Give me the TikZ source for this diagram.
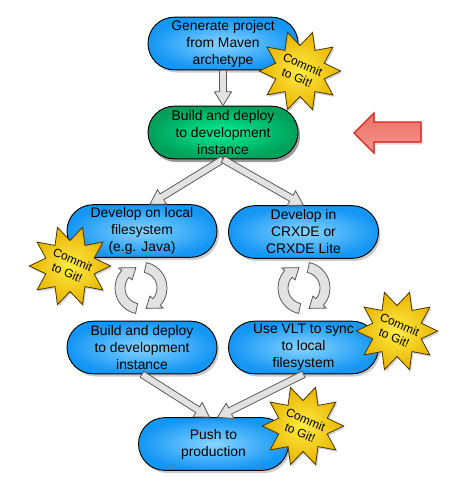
\documentclass[tikz,border=0pt]{standalone}
\usepackage{fontspec}
\setmainfont{Liberation Sans}
\usetikzlibrary{shapes.geometric, shapes.misc, shadows, calc}

\definecolor{boxblue}{RGB}{20,150,245}
\definecolor{boxlight}{RGB}{135,212,255}
\definecolor{boxgreen}{RGB}{0,160,90}
\definecolor{greenlight}{RGB}{0,238,148}
\definecolor{staryellow}{RGB}{232,180,0}
\definecolor{starlight}{RGB}{255,236,70}
\definecolor{starline}{RGB}{70,55,0}
\definecolor{arrowgray}{RGB}{226,226,226}
\definecolor{arrowline}{RGB}{90,90,90}
\definecolor{redline}{RGB}{215,35,25}
\definecolor{redtop}{RGB}{232,112,102}
\definecolor{redbottom}{RGB}{250,150,140}

\tikzset{
  stepbox/.style={rounded rectangle, draw=black, line width=0.7pt, minimum width=112.5pt, minimum height=39.5pt,
    inner sep=0pt, align=center, font=\fontsize{10.4}{12.75}\selectfont,
    shading=radial, inner color=boxlight, outer color=boxblue,
    drop shadow={shadow xshift=1.5pt, shadow yshift=-2pt, opacity=0.4}},
  greenbox/.style={stepbox, inner color=greenlight, outer color=boxgreen,
    drop shadow={shadow xshift=1.5pt, shadow yshift=-2.5pt, opacity=0.7}},
  gitstar/.style={star, star points=10, star point ratio=1.6, minimum size=61pt, inner sep=0pt,
    shape border rotate=18,
    draw=starline, line width=0.6pt, shading=radial, inner color=starlight, outer color=staryellow,
    drop shadow={shadow xshift=1pt, shadow yshift=-1.5pt, opacity=0.35}},
  gittext/.style={align=center, rotate=-23, inner sep=0pt, font=\fontsize{9}{10.5}\selectfont},
  hollow/.style={fill=arrowgray, draw=arrowline, line width=0.6pt, line join=miter},
  cyclearrow/.style={fill=arrowgray, draw=arrowline, line width=0.6pt},
  redarrow/.style={draw=redline, line width=0.9pt, top color=redtop, bottom color=redbottom,
    drop shadow={shadow xshift=1pt, shadow yshift=-2pt, opacity=0.25}}
}

% wide arrow with an outlined shaft, drawn from #1 to #2
\newcommand{\hollowarrow}[2]{%
  \coordinate (ha) at (#1);
  \coordinate (hb) at (#2);
  \coordinate (hh) at ($(hb)!10.5pt!(ha)$);
  \filldraw[hollow] ($(ha)!2.6pt!90:(hb)$) -- ($(hh)!2.6pt!-90:(ha)$) -- ($(hh)!6.4pt!-90:(ha)$) -- (hb)
    -- ($(hh)!6.4pt!90:(ha)$) -- ($(hh)!2.6pt!90:(ha)$) -- ($(ha)!2.6pt!-90:(hb)$) -- cycle;}

% pair of round arrows turning clockwise round #1
\newcommand{\cyclearrows}[1]{%
  \begin{scope}[shift={(#1)}, yscale=-1]
    \filldraw[cyclearrow] (258:26) arc[start angle=258, end angle=138, radius=26] -- (138:30)
      -- (104:21) -- (138:12) -- (138:16) arc[start angle=138, end angle=258, radius=16] -- cycle;
    \filldraw[cyclearrow, rotate=180] (258:26) arc[start angle=258, end angle=138, radius=26] -- (138:30)
      -- (104:21) -- (138:12) -- (138:16) arc[start angle=138, end angle=258, radius=16] -- cycle;
  \end{scope}}

\begin{document}
\begin{tikzpicture}[x=0.75pt,y=0.75pt,yscale=-1,xscale=1]
\useasboundingbox (0,0) rectangle (466,497);

% Steps
\node[stepbox] (gen) at (223,43.5) {Generate project\\from Maven\\archetype};
\node[greenbox] (build) at (223,132.5) {Build and deploy\\to development\\instance};
\node[stepbox] (devlocal) at (142,231) {Develop on local\\filesystem\\(e.g. Java)};
\node[stepbox] (devcrx) at (303.5,232) {Develop in\\CRXDE or\\CRXDE Lite};
\node[stepbox] (deploy) at (142,347.5) {Build and deploy\\to development\\instance};
\node[stepbox] (vlt) at (303.5,347.5) {Use VLT to sync\\to local\\filesystem};
\node[stepbox] (push) at (213.5,444) {Push to\\production};

% Connectors
\hollowarrow{gen.south}{build.north}
\hollowarrow{build.south}{$(devlocal.north)+(8,0)$}
\hollowarrow{build.south}{devcrx.north}
\hollowarrow{deploy.south}{$(push.north)+(-4,0)$}
\hollowarrow{vlt.south}{$(push.north)+(4,0)$}

% Round arrows between the steps
\cyclearrows{141,288}
\cyclearrows{304,288}

% Red marker arrow
\filldraw[redarrow] (354,133) -- (374,113) -- (374,122) -- (421,122) -- (421,142) -- (374,142) -- (374,153) -- cycle;

% Commit stars
\node[gitstar] (starA) at (300,71) {};
\node[gittext] (starAtext) at (starA) {Commit\\to Git!};
\node[gitstar] (starB) at (70,266) {};
\node[gittext] (starBtext) at (starB) {Commit\\to Git!};
\node[gitstar] (starC) at (397,331) {};
\node[gittext] (starCtext) at (starC) {Commit\\to Git!};
\node[gitstar] (starD) at (303,426) {};
\node[gittext] (starDtext) at (starD) {Commit\\to Git!};

\end{tikzpicture}
\end{document}
